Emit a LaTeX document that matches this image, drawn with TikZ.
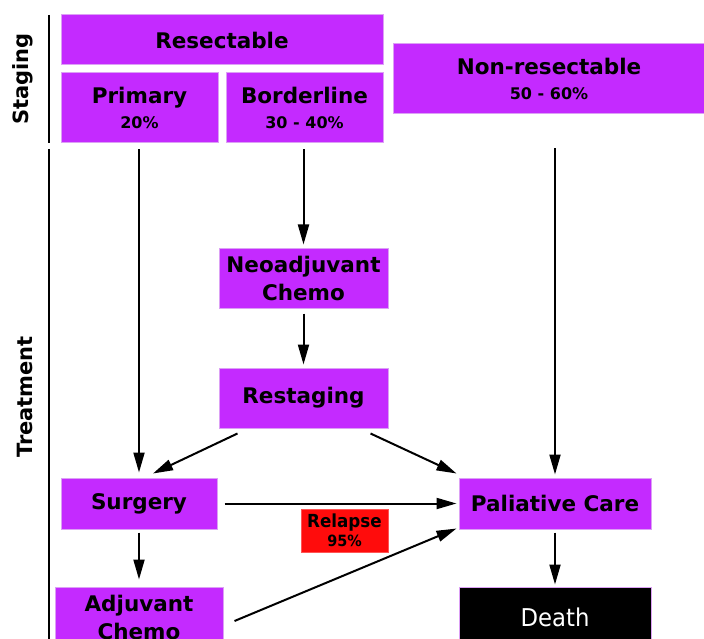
\documentclass[tikz,border=0pt]{standalone}
\usepackage{fontspec}
\setmainfont{DejaVu Sans}
\newfontfamily\relfont[FakeStretch=0.93]{DejaVu Sans}
\usetikzlibrary{arrows.meta,calc}
\definecolor{boxpurple}{RGB}{196,42,255}
\definecolor{boxedge}{RGB}{220,160,245}
\definecolor{relred}{RGB}{255,12,12}
\tikzset{
  pbox/.style={draw=boxedge,line width=1pt,fill=boxpurple,inner sep=0pt,align=center,font=\bfseries\fontsize{21.5}{28}\selectfont,text=black},
  arr/.style={line width=2pt,-{Triangle[length=20pt,width=11pt]}},
  side/.style={line width=2pt},
  sidelabel/.style={rotate=90,font=\bfseries\fontsize{21}{24}\selectfont}
}
\newcommand{\subtxt}[1]{{\fontsize{16}{18}\selectfont #1}}
\begin{document}
\begin{tikzpicture}[x=1pt,y=-1pt]
\useasboundingbox (0,0) rectangle (704,639);
% side lines and labels
\coordinate (s1) at (49,15);
\coordinate (s2) at (49,143);
\coordinate (t1) at (49,149);
\coordinate (t2) at (49,645);
\draw[side] (s1) -- (s2);
\draw[side] (t1) -- (t2);
\node[sidelabel] (lstag) at (23,79) {Staging};
\node[sidelabel] (ltreat) at (25,397) {Treatment};
% boxes
\node[pbox,minimum width=322,minimum height=50] (res) at (222,40) {Resectable};
\node[pbox,minimum width=157,minimum height=70] (prim) at (139.5,108) {Primary\\[-3pt]\subtxt{20\%}};
\node[pbox,minimum width=157,minimum height=70] (bord) at (304.5,108) {Borderline\\[-3pt]\subtxt{30 - 40\%}};
\node[pbox,minimum width=312,minimum height=70] (nonres) at (549,79) {Non-resectable\\[-3pt]\subtxt{50 - 60\%}};
\node[pbox,minimum width=169,minimum height=60] (neo) at (303.5,278) {Neoadjuvant\\Chemo};
\node[pbox,minimum width=169,minimum height=60] (rest) at (303.5,398) {Restaging};
\node[pbox,minimum width=156,minimum height=51] (surg) at (139,503.5) {Surgery};
\node[pbox,minimum width=192,minimum height=51] (pal) at (555,503.5) {Paliative Care};
\node[draw=relred!70,fill=relred,line width=0.6pt,minimum width=87,minimum height=43,inner sep=0pt,align=center,font=\relfont\bfseries\fontsize{18}{19}\selectfont] (rel) at (344.5,530.5) {Relapse\\{\fontsize{15.5}{17}\selectfont 95\%}};
\node[pbox,minimum width=168,minimum height=61] (adj) at (139,617.5) {Adjuvant\\Chemo};
\node[draw=boxedge,line width=1pt,fill=black,text=white,minimum width=192,minimum height=61,inner sep=0pt,font=\relfont\fontsize{24.5}{26}\selectfont] (death) at (555,617.5) {Death};
% arrows
\draw[arr,shorten <=6pt,shorten >=5pt] (prim.south -| surg.north) -- (surg.north);
\draw[arr,shorten <=6pt,shorten >=3pt] (neo.north |- bord.south) -- (neo.north);
\draw[arr,shorten <=5pt,shorten >=3pt] (neo.south) -- (rest.north);
\draw[arr] ($(rest.south west)+(19,5)$) -- ($(surg.north)+(14,-4)$);
\draw[arr] ($(rest.south east)+(-18,5)$) -- ($(pal.north west)+(-2,-4)$);
\draw[arr,shorten <=34pt,shorten >=3pt] (pal.north |- nonres.south) -- (pal.north);
\draw[arr,shorten <=7pt,shorten >=2pt] (surg.east) -- (pal.west);
\draw[arr,shorten <=3pt,shorten >=7pt] (surg.south) -- (surg.south |- adj.north);
\draw[arr] ($(adj.east)+(11,3.5)$) -- ($(pal.south west)+(-2,-1)$);
\draw[arr,shorten <=3pt,shorten >=2pt] (pal.south) -- (death.north);
\end{tikzpicture}
\end{document}
